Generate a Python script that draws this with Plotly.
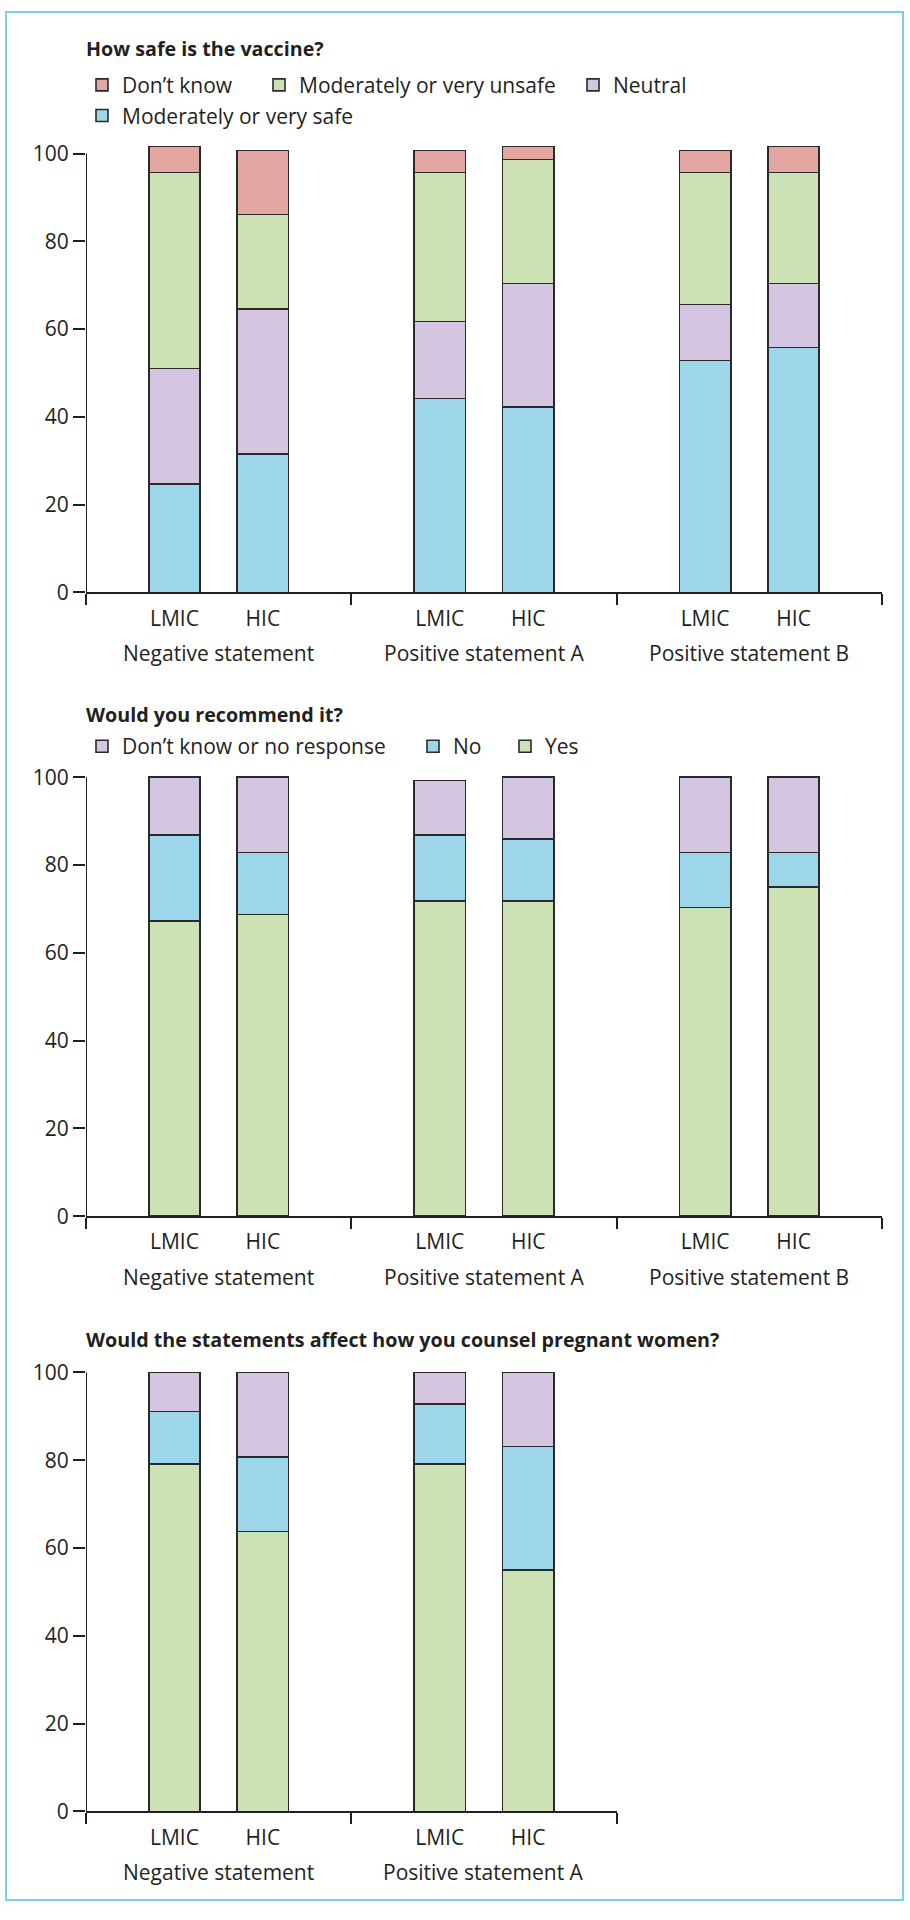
import plotly.graph_objects as go

# ---------------- data ----------------
countries = ["LMIC", "HIC"]
statements = ["Negative statement", "Positive statement A", "Positive statement B"]

# Panel 1: How safe is the vaccine? (order: LMIC neg, HIC neg, LMIC A, HIC A, LMIC B, HIC B)
safe_safe = [24.7, 31.6, 44.2, 42.2, 52.8, 55.8]
safe_neutral = [26.3, 33.0, 17.5, 28.2, 12.8, 14.6]
safe_unsafe = [44.7, 21.5, 34.0, 28.2, 30.1, 25.3]
safe_dontknow = [5.9, 14.6, 5.0, 3.0, 5.0, 5.9]

# Panel 2: Would you recommend it?
rec_yes = [67.2, 68.7, 71.8, 71.8, 70.3, 75.0]
rec_no = [19.6, 14.2, 15.0, 14.1, 12.6, 7.9]
rec_dk = [13.2, 17.1, 12.5, 14.1, 17.1, 17.1]

# Panel 3: Would the statements affect how you counsel pregnant women?
cou_yes = [79.1, 63.8, 79.1, 55.0]
cou_no = [12.0, 16.9, 13.7, 28.1]
cou_dk = [8.9, 19.3, 7.2, 16.9]

titles = ["How safe is the vaccine?", "Would you recommend it?",
          "Would the statements affect how you counsel pregnant women?"]

# ---------------- style ----------------
C_RED = "#e3a6a1"
C_GREEN = "#cce1b4"
C_PURPLE = "#d4c5e1"
C_BLUE = "#9dd6e8"
INK = "#231f20"
FONT = "Open Sans"
FS = 21
FS_TITLE = 19.7

W, H = 910, 1920


def px_x(p):
    return p / W


def px_y(p):
    return 1 - p / H


def positions(n_groups):
    xs, labels = [], []
    for g in range(n_groups):
        for c, name in enumerate(countries):
            xs.append(3 * g + 1 + c)
            labels.append(name)
    return xs, labels


fig = go.Figure()

panels = [
    dict(ax="", n=3, series=[("Moderately or very safe", safe_safe, C_BLUE),
                              ("Neutral", safe_neutral, C_PURPLE),
                              ("Moderately or very unsafe", safe_unsafe, C_GREEN),
                              ("Don\u2019t know", safe_dontknow, C_RED)],
         legends=[(122, 111), (613, 80), (299, 80), (122, 80)],
         y0=592.3, y100=149.0, xr=882.0, title_y=43),
    dict(ax="2", n=3, series=[("Yes", rec_yes, C_GREEN),
                               ("No", rec_no, C_BLUE),
                               ("Don\u2019t know or no response", rec_dk, C_PURPLE)],
         legends=[(545, 748), (453, 748), (122, 748)],
         y0=1222.3, y100=779.0, xr=882.0, title_y=716),
    dict(ax="3", n=2, series=[("Yes", cou_yes, C_GREEN),
                               ("No", cou_no, C_BLUE),
                               ("Don\u2019t know or no response", cou_dk, C_PURPLE)],
         legends=None,
         y0=1823.5, y100=1380.0, xr=616.5, title_y=1347),
]

legend_layouts = {}
leg_idx = 0
layout_axes = {}
annotations = []
shapes = []

for pi, p in enumerate(panels):
    xs, labels = positions(p["n"])
    xa = "x" + p["ax"]
    ya = "y" + p["ax"]
    for si, (name, vals, col) in enumerate(p["series"]):
        tr = dict(x=xs, y=vals, name=name, width=0.58,
                  marker=dict(color=col, line=dict(color="#2a2a2a", width=1.6)),
                  xaxis=xa, yaxis=ya, hoverinfo="y+name")
        if p["legends"] is not None:
            leg_idx += 1
            lname = "legend" if leg_idx == 1 else "legend%d" % leg_idx
            tr["legend"] = lname
            tr["showlegend"] = True
            tx, ty = p["legends"][si]
            legend_layouts[lname] = dict(
                x=px_x(tx - 40), y=px_y(ty), xanchor="left", yanchor="middle",
                orientation="h", bgcolor="rgba(0,0,0,0)", borderwidth=0,
                font=dict(family=FONT, size=FS, color=INK))
        else:
            tr["showlegend"] = False
        fig.add_trace(go.Bar(**tr))

    ppu = (p["y0"] - p["y100"]) / 100.0
    top_px = p["y100"] - 2 * ppu
    xkey = "xaxis" + p["ax"]
    ykey = "yaxis" + p["ax"]
    layout_axes[xkey] = dict(
        domain=[px_x(86), px_x(p["xr"])], range=[0, 3 * p["n"]], anchor=ya,
        showline=True, linecolor=INK, linewidth=2, showgrid=False, zeroline=False,
        tickmode="array", tickvals=xs, ticktext=labels, ticks="",
        ticklabelstandoff=6,
        tickfont=dict(family=FONT, size=FS, color=INK),
        minor=dict(tickmode="array", tickvals=[3 * g for g in range(p["n"] + 1)],
                   ticks="outside", ticklen=11, tickwidth=2, tickcolor=INK, showgrid=False),
        fixedrange=True)
    layout_axes[ykey] = dict(
        domain=[px_y(p["y0"]), px_y(top_px)], range=[0, 102], anchor=xa,
        showline=False, showgrid=False, zeroline=False,
        tickmode="array", tickvals=[0, 20, 40, 60, 80, 100],
        ticks="outside", ticklen=12, tickwidth=2, tickcolor=INK,
        tickfont=dict(family=FONT, size=FS, color=INK), fixedrange=True)
    # y-axis line from 0 to 100
    shapes.append(dict(type="line", xref=xa, yref=ya, x0=0, x1=0, y0=0, y1=100,
                       line=dict(color=INK, width=2)))
    # group labels
    for g in range(p["n"]):
        annotations.append(dict(x=3 * g + 1.5, xref=xa, y=px_y(p["y0"] + 61), yref="paper",
                                text=statements[g], showarrow=False, xanchor="center",
                                yanchor="middle", font=dict(family=FONT, size=FS, color=INK)))
    # title
    annotations.append(dict(x=px_x(84), xref="paper", y=px_y(p["title_y"]), yref="paper",
                            text="<b>%s</b>" % titles[pi], showarrow=False, xanchor="left",
                            yanchor="middle", font=dict(family=FONT, size=FS_TITLE, color=INK)))

# outer border
shapes.append(dict(type="rect", xref="paper", yref="paper",
                   x0=px_x(6), x1=px_x(903), y0=px_y(1913), y1=px_y(6),
                   line=dict(color="#7fcde6", width=2)))

fig.update_layout(
    width=W, height=H, barmode="stack",
    margin=dict(l=0, r=0, t=0, b=0),
    paper_bgcolor="white", plot_bgcolor="white",
    font=dict(family=FONT, size=FS, color=INK),
    annotations=annotations, shapes=shapes,
    **layout_axes, **legend_layouts)

fig.write_html("out.html", config={"displayModeBar": False},
               post_script="document.body.style.margin='0px';document.body.style.overflow='hidden';")
